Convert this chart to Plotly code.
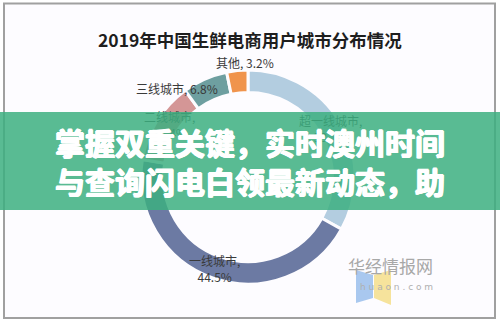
import math
import plotly.graph_objects as go

# ---- data ----
categories = ["超一线城市", "一线城市", "二线城市", "三线城市", "其他"]
shares = [33.1, 44.5, 12.4, 6.8, 3.2]
colors = ["#b3cde0", "#6c7aa3", "#d49696", "#6e9fa0", "#f0944c"]
two_line = [True, True, True, False, False]
label_offsets = [(0, 0), (-2, 1), (3, -2), (-32, -1), (7, -19)]  # px nudges

title_text = "2019年中国生鲜电商用户城市分布情况"
banner_lines = ["掌握双重关键，实时澳州时间", "与查询闪电白领最新动态，助"]

W, H = 500, 323
cx, cy, R, hole = 248, 177, 107, 0.79

fig = go.Figure()

fig.add_trace(go.Pie(
    labels=categories, values=shares, sort=False, direction="clockwise",
    rotation=0, hole=hole,
    marker=dict(colors=colors, line=dict(color="#fdfcff", width=3)),
    textinfo="none", hoverinfo="skip", showlegend=False,
    domain=dict(x=[(cx - R) / W, (cx + R) / W],
                y=[(H - cy - R) / H, (H - cy + R) / H]),
))

annotations = []
# title
annotations.append(dict(text=title_text, x=0.5, y=1 - 25 / H,
                        xref="paper", yref="paper", showarrow=False,
                        font=dict(family="Noto Sans CJK SC", size=17.5, color="#1e1e1e", weight=700)))

# data labels positioned at slice mid-angles on ring mid radius
total = sum(shares)
acc = 0.0
rmid = R * (1 + hole) / 2
for cat, v, tl, (ox, oy) in zip(categories, shares, two_line, label_offsets):
    mid = (acc + v / 2) / total * 2 * math.pi
    acc += v
    px = cx + rmid * math.sin(mid) + ox
    py = cy - rmid * math.cos(mid) + oy
    txt = f"{cat},<br>{v}%" if tl else f"{cat}, {v}%"
    annotations.append(dict(text=txt, x=px / W, y=1 - py / H, xref="paper", yref="paper",
                            showarrow=False, xanchor="center", yanchor="middle",
                            font=dict(family="Noto Sans CJK SC", size=12, color="#3a3a3a")))

# watermark text
annotations.append(dict(text="华经情报网", x=435 / W, y=1 - 280 / H, xref="paper", yref="paper",
                        showarrow=False, font=dict(family="Noto Sans CJK SC", size=17, color="#a8a8a8")))
annotations.append(dict(text="h u a o n . c o m", x=435 / W, y=1 - 294 / H, xref="paper", yref="paper",
                        showarrow=False, font=dict(family="DejaVu Sans", size=9, color="#b0b0b0")))

# banner (drawn last so it lies over the labels)
annotations.append(dict(text="<br>".join(banner_lines),
                        x=0.5, y=1 - 160.5 / H, xref="paper", yref="paper",
                        xanchor="center", yanchor="middle", showarrow=False,
                        width=504, height=98, borderpad=0, borderwidth=0,
                        bgcolor="rgba(60,175,128,0.85)", align="center", valign="middle",
                        font=dict(family="Noto Sans CJK SC", size=30, color="#ffffff", weight=700,
                                  shadow="0.7px 0 0 #ffffff, -0.7px 0 0 #ffffff, 0 0.7px 0 #ffffff, 0 -0.7px 0 #ffffff")))

shapes = [
    dict(type="rect", xref="paper", yref="paper", x0=4 / W, x1=495 / W, y0=1 - 318 / H, y1=1 - 3.5 / H,
         line=dict(color="#a0a0a0", width=2), fillcolor="#fdfcff", layer="below"),
    # logo
    dict(type="path", xref="paper", yref="paper",
         path=f"M {356/W},{1-270/H} L {373/W},{1-275/H} L {373/W},{1-298/H} L {356/W},{1-303/H} Z",
         fillcolor="#a9c8ef", line=dict(width=0), layer="below"),
    dict(type="path", xref="paper", yref="paper",
         path=f"M {374/W},{1-275/H} L {391/W},{1-270/H} L {391/W},{1-305/H} L {374/W},{1-298/H} Z",
         fillcolor="#f6e39c", line=dict(width=0), layer="below"),
]

fig.update_layout(width=W, height=H, margin=dict(l=0, r=0, t=0, b=0),
                  paper_bgcolor="#ffffff", plot_bgcolor="#ffffff",
                  annotations=annotations, shapes=shapes, showlegend=False)

fig.write_html("out.html")
